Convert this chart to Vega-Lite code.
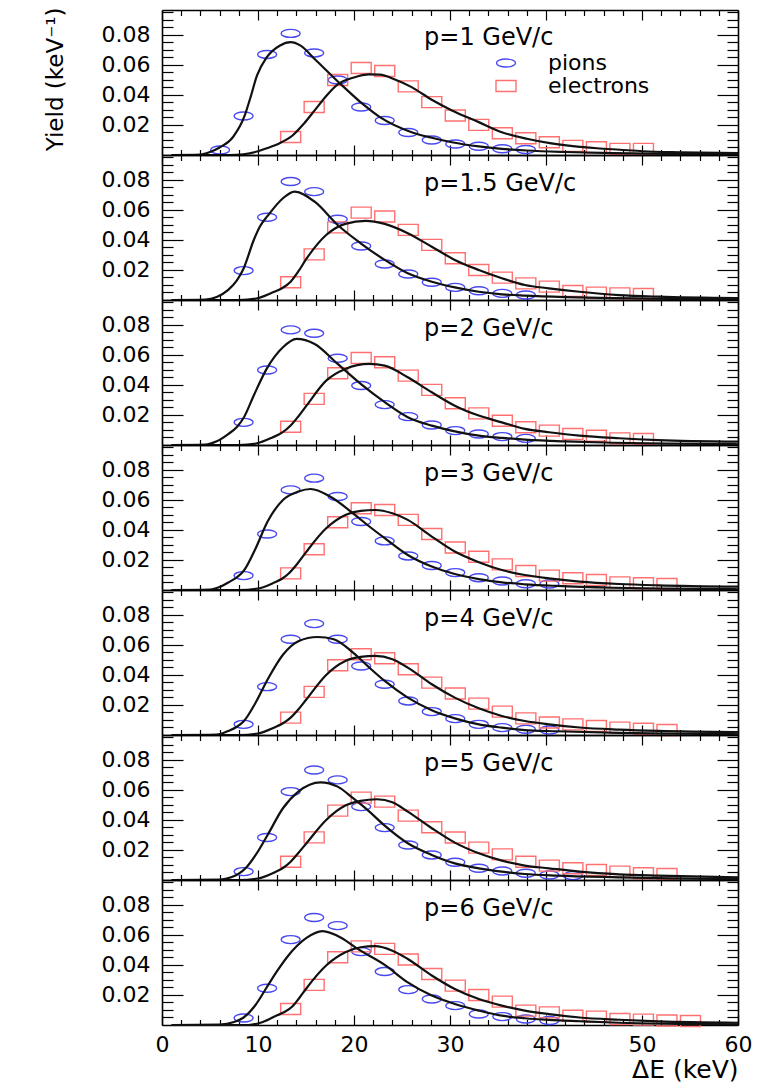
{
"$schema": "https://vega.github.io/schema/vega-lite/v6.json",
"background": "white",
"padding": {"left": 44, "top": 6, "right": 20, "bottom": 3},
"config": {
  "view": {"stroke": null},
  "font": "DejaVu Sans",
  "axis": {"domainColor": "black", "domainWidth": 1.6, "tickColor": "black", "tickWidth": 1.2, "labelColor": "black", "labelFont": "DejaVu Sans", "labelFontSize": 22, "titleFont": "DejaVu Sans", "titleColor": "black", "titleFontWeight": "normal", "grid": false, "labelFlush": false}
},
"datasets": {
  "lab": [
    {"p": "1", "t": "p=1 GeV/c"}, {"p": "1.5", "t": "p=1.5 GeV/c"}, {"p": "2", "t": "p=2 GeV/c"}, {"p": "3", "t": "p=3 GeV/c"}, {"p": "4", "t": "p=4 GeV/c"}, {"p": "5", "t": "p=5 GeV/c"}, {"p": "6", "t": "p=6 GeV/c"}
  ],
  "pts": [
    {"p":"1","s":"pions","x":6.05,"y":0.0033},{"p":"1","s":"pions","x":8.5,"y":0.026},{"p":"1","s":"pions","x":10.95,"y":0.067},{"p":"1","s":"pions","x":13.4,"y":0.081},{"p":"1","s":"pions","x":15.85,"y":0.068},{"p":"1","s":"pions","x":18.3,"y":0.050},{"p":"1","s":"pions","x":20.75,"y":0.032},{"p":"1","s":"pions","x":23.2,"y":0.023},{"p":"1","s":"pions","x":25.65,"y":0.015},{"p":"1","s":"pions","x":28.1,"y":0.010},{"p":"1","s":"pions","x":30.55,"y":0.0073},{"p":"1","s":"pions","x":33.0,"y":0.0058},{"p":"1","s":"pions","x":35.45,"y":0.0042},{"p":"1","s":"pions","x":37.9,"y":0.0037},
    {"p":"1","s":"electrons","x":13.4,"y":0.012},{"p":"1","s":"electrons","x":15.85,"y":0.032},{"p":"1","s":"electrons","x":18.3,"y":0.050},{"p":"1","s":"electrons","x":20.75,"y":0.058},{"p":"1","s":"electrons","x":23.2,"y":0.056},{"p":"1","s":"electrons","x":25.65,"y":0.0457},{"p":"1","s":"electrons","x":28.1,"y":0.0352},{"p":"1","s":"electrons","x":30.55,"y":0.0263},{"p":"1","s":"electrons","x":33.0,"y":0.0201},{"p":"1","s":"electrons","x":35.45,"y":0.0145},{"p":"1","s":"electrons","x":37.9,"y":0.0112},{"p":"1","s":"electrons","x":40.35,"y":0.0085},{"p":"1","s":"electrons","x":42.8,"y":0.0061},{"p":"1","s":"electrons","x":45.25,"y":0.0052},{"p":"1","s":"electrons","x":47.7,"y":0.0041},{"p":"1","s":"electrons","x":50.15,"y":0.0041},
    {"p":"1.5","s":"pions","x":8.5,"y":0.0196},{"p":"1.5","s":"pions","x":10.95,"y":0.0551},{"p":"1.5","s":"pions","x":13.4,"y":0.0789},{"p":"1.5","s":"pions","x":15.85,"y":0.0722},{"p":"1.5","s":"pions","x":18.3,"y":0.0538},{"p":"1.5","s":"pions","x":20.75,"y":0.036},{"p":"1.5","s":"pions","x":23.2,"y":0.024},{"p":"1.5","s":"pions","x":25.65,"y":0.0173},{"p":"1.5","s":"pions","x":28.1,"y":0.0118},{"p":"1.5","s":"pions","x":30.55,"y":0.0084},{"p":"1.5","s":"pions","x":33.0,"y":0.0062},{"p":"1.5","s":"pions","x":35.45,"y":0.0044},{"p":"1.5","s":"pions","x":37.9,"y":0.0033},
    {"p":"1.5","s":"electrons","x":13.4,"y":0.0118},{"p":"1.5","s":"electrons","x":15.85,"y":0.0304},{"p":"1.5","s":"electrons","x":18.3,"y":0.0484},{"p":"1.5","s":"electrons","x":20.75,"y":0.0582},{"p":"1.5","s":"electrons","x":23.2,"y":0.0556},{"p":"1.5","s":"electrons","x":25.65,"y":0.0467},{"p":"1.5","s":"electrons","x":28.1,"y":0.0367},{"p":"1.5","s":"electrons","x":30.55,"y":0.0278},{"p":"1.5","s":"electrons","x":33.0,"y":0.020},{"p":"1.5","s":"electrons","x":35.45,"y":0.0149},{"p":"1.5","s":"electrons","x":37.9,"y":0.0111},{"p":"1.5","s":"electrons","x":40.35,"y":0.0089},{"p":"1.5","s":"electrons","x":42.8,"y":0.006},{"p":"1.5","s":"electrons","x":45.25,"y":0.0049},{"p":"1.5","s":"electrons","x":47.7,"y":0.0044},{"p":"1.5","s":"electrons","x":50.15,"y":0.004},
    {"p":"2","s":"pions","x":8.5,"y":0.0151},{"p":"2","s":"pions","x":10.95,"y":0.050},{"p":"2","s":"pions","x":13.4,"y":0.0767},{"p":"2","s":"pions","x":15.85,"y":0.0744},{"p":"2","s":"pions","x":18.3,"y":0.0578},{"p":"2","s":"pions","x":20.75,"y":0.0396},{"p":"2","s":"pions","x":23.2,"y":0.0269},{"p":"2","s":"pions","x":25.65,"y":0.0189},{"p":"2","s":"pions","x":28.1,"y":0.0133},{"p":"2","s":"pions","x":30.55,"y":0.0096},{"p":"2","s":"pions","x":33.0,"y":0.0073},{"p":"2","s":"pions","x":35.45,"y":0.0056},{"p":"2","s":"pions","x":37.9,"y":0.0044},
    {"p":"2","s":"electrons","x":13.4,"y":0.0122},{"p":"2","s":"electrons","x":15.85,"y":0.0307},{"p":"2","s":"electrons","x":18.3,"y":0.0478},{"p":"2","s":"electrons","x":20.75,"y":0.058},{"p":"2","s":"electrons","x":23.2,"y":0.0551},{"p":"2","s":"electrons","x":25.65,"y":0.0462},{"p":"2","s":"electrons","x":28.1,"y":0.0367},{"p":"2","s":"electrons","x":30.55,"y":0.0278},{"p":"2","s":"electrons","x":33.0,"y":0.0211},{"p":"2","s":"electrons","x":35.45,"y":0.0162},{"p":"2","s":"electrons","x":37.9,"y":0.0118},{"p":"2","s":"electrons","x":40.35,"y":0.0096},{"p":"2","s":"electrons","x":42.8,"y":0.0073},{"p":"2","s":"electrons","x":45.25,"y":0.0062},{"p":"2","s":"electrons","x":47.7,"y":0.0044},{"p":"2","s":"electrons","x":50.15,"y":0.004},
    {"p":"3","s":"pions","x":8.5,"y":0.0096},{"p":"3","s":"pions","x":10.95,"y":0.0373},{"p":"3","s":"pions","x":13.4,"y":0.0667},{"p":"3","s":"pions","x":15.85,"y":0.0745},{"p":"3","s":"pions","x":18.3,"y":0.0623},{"p":"3","s":"pions","x":20.75,"y":0.0456},{"p":"3","s":"pions","x":23.2,"y":0.0327},{"p":"3","s":"pions","x":25.65,"y":0.0227},{"p":"3","s":"pions","x":28.1,"y":0.0163},{"p":"3","s":"pions","x":30.55,"y":0.0116},{"p":"3","s":"pions","x":33.0,"y":0.0082},{"p":"3","s":"pions","x":35.45,"y":0.006},{"p":"3","s":"pions","x":37.9,"y":0.0042},{"p":"3","s":"pions","x":40.35,"y":0.004},
    {"p":"3","s":"electrons","x":13.4,"y":0.0111},{"p":"3","s":"electrons","x":15.85,"y":0.0271},{"p":"3","s":"electrons","x":18.3,"y":0.0451},{"p":"3","s":"electrons","x":20.75,"y":0.0545},{"p":"3","s":"electrons","x":23.2,"y":0.0533},{"p":"3","s":"electrons","x":25.65,"y":0.0467},{"p":"3","s":"electrons","x":28.1,"y":0.0373},{"p":"3","s":"electrons","x":30.55,"y":0.0283},{"p":"3","s":"electrons","x":33.0,"y":0.0222},{"p":"3","s":"electrons","x":35.45,"y":0.0171},{"p":"3","s":"electrons","x":37.9,"y":0.0127},{"p":"3","s":"electrons","x":40.35,"y":0.0096},{"p":"3","s":"electrons","x":42.8,"y":0.0078},{"p":"3","s":"electrons","x":45.25,"y":0.0067},{"p":"3","s":"electrons","x":47.7,"y":0.0051},{"p":"3","s":"electrons","x":50.15,"y":0.0045},{"p":"3","s":"electrons","x":52.6,"y":0.004},
    {"p":"4","s":"pions","x":8.5,"y":0.0071},{"p":"4","s":"pions","x":10.95,"y":0.0322},{"p":"4","s":"pions","x":13.4,"y":0.0638},{"p":"4","s":"pions","x":15.85,"y":0.0742},{"p":"4","s":"pions","x":18.3,"y":0.0638},{"p":"4","s":"pions","x":20.75,"y":0.046},{"p":"4","s":"pions","x":23.2,"y":0.0338},{"p":"4","s":"pions","x":25.65,"y":0.0227},{"p":"4","s":"pions","x":28.1,"y":0.0156},{"p":"4","s":"pions","x":30.55,"y":0.0109},{"p":"4","s":"pions","x":33.0,"y":0.0071},{"p":"4","s":"pions","x":35.45,"y":0.0049},{"p":"4","s":"pions","x":37.9,"y":0.0038},{"p":"4","s":"pions","x":40.35,"y":0.0033},
    {"p":"4","s":"electrons","x":13.4,"y":0.0116},{"p":"4","s":"electrons","x":15.85,"y":0.0287},{"p":"4","s":"electrons","x":18.3,"y":0.0465},{"p":"4","s":"electrons","x":20.75,"y":0.0538},{"p":"4","s":"electrons","x":23.2,"y":0.0511},{"p":"4","s":"electrons","x":25.65,"y":0.0438},{"p":"4","s":"electrons","x":28.1,"y":0.0349},{"p":"4","s":"electrons","x":30.55,"y":0.0276},{"p":"4","s":"electrons","x":33.0,"y":0.0209},{"p":"4","s":"electrons","x":35.45,"y":0.0156},{"p":"4","s":"electrons","x":37.9,"y":0.0111},{"p":"4","s":"electrons","x":40.35,"y":0.0083},{"p":"4","s":"electrons","x":42.8,"y":0.0071},{"p":"4","s":"electrons","x":45.25,"y":0.006},{"p":"4","s":"electrons","x":47.7,"y":0.0049},{"p":"4","s":"electrons","x":50.15,"y":0.0042},{"p":"4","s":"electrons","x":52.6,"y":0.0033},
    {"p":"5","s":"pions","x":8.5,"y":0.0056},{"p":"5","s":"pions","x":10.95,"y":0.0283},{"p":"5","s":"pions","x":13.4,"y":0.0589},{"p":"5","s":"pions","x":15.85,"y":0.0733},{"p":"5","s":"pions","x":18.3,"y":0.0667},{"p":"5","s":"pions","x":20.75,"y":0.0489},{"p":"5","s":"pions","x":23.2,"y":0.0349},{"p":"5","s":"pions","x":25.65,"y":0.0233},{"p":"5","s":"pions","x":28.1,"y":0.0167},{"p":"5","s":"pions","x":30.55,"y":0.0118},{"p":"5","s":"pions","x":33.0,"y":0.0078},{"p":"5","s":"pions","x":35.45,"y":0.006},{"p":"5","s":"pions","x":37.9,"y":0.0045},{"p":"5","s":"pions","x":40.35,"y":0.0033},{"p":"5","s":"pions","x":42.8,"y":0.0029},
    {"p":"5","s":"electrons","x":13.4,"y":0.0122},{"p":"5","s":"electrons","x":15.85,"y":0.0284},{"p":"5","s":"electrons","x":18.3,"y":0.0462},{"p":"5","s":"electrons","x":20.75,"y":0.0549},{"p":"5","s":"electrons","x":23.2,"y":0.0522},{"p":"5","s":"electrons","x":25.65,"y":0.0429},{"p":"5","s":"electrons","x":28.1,"y":0.0351},{"p":"5","s":"electrons","x":30.55,"y":0.0283},{"p":"5","s":"electrons","x":33.0,"y":0.0216},{"p":"5","s":"electrons","x":35.45,"y":0.0171},{"p":"5","s":"electrons","x":37.9,"y":0.0122},{"p":"5","s":"electrons","x":40.35,"y":0.0096},{"p":"5","s":"electrons","x":42.8,"y":0.0078},{"p":"5","s":"electrons","x":45.25,"y":0.0067},{"p":"5","s":"electrons","x":47.7,"y":0.0056},{"p":"5","s":"electrons","x":50.15,"y":0.0045},{"p":"5","s":"electrons","x":52.6,"y":0.004},
    {"p":"6","s":"pions","x":8.5,"y":0.0047},{"p":"6","s":"pions","x":10.95,"y":0.0245},{"p":"6","s":"pions","x":13.4,"y":0.0569},{"p":"6","s":"pions","x":15.85,"y":0.0716},{"p":"6","s":"pions","x":18.3,"y":0.0662},{"p":"6","s":"pions","x":20.75,"y":0.0489},{"p":"6","s":"pions","x":23.2,"y":0.0356},{"p":"6","s":"pions","x":25.65,"y":0.0236},{"p":"6","s":"pions","x":28.1,"y":0.0173},{"p":"6","s":"pions","x":30.55,"y":0.0129},{"p":"6","s":"pions","x":33.0,"y":0.0073},{"p":"6","s":"pions","x":35.45,"y":0.0056},{"p":"6","s":"pions","x":37.9,"y":0.004},{"p":"6","s":"pions","x":40.35,"y":0.003},
    {"p":"6","s":"electrons","x":13.4,"y":0.0107},{"p":"6","s":"electrons","x":15.85,"y":0.0267},{"p":"6","s":"electrons","x":18.3,"y":0.0451},{"p":"6","s":"electrons","x":20.75,"y":0.0524},{"p":"6","s":"electrons","x":23.2,"y":0.0507},{"p":"6","s":"electrons","x":25.65,"y":0.0436},{"p":"6","s":"electrons","x":28.1,"y":0.034},{"p":"6","s":"electrons","x":30.55,"y":0.0262},{"p":"6","s":"electrons","x":33.0,"y":0.020},{"p":"6","s":"electrons","x":35.45,"y":0.0156},{"p":"6","s":"electrons","x":37.9,"y":0.0096},{"p":"6","s":"electrons","x":40.35,"y":0.0084},{"p":"6","s":"electrons","x":42.8,"y":0.0062},{"p":"6","s":"electrons","x":45.25,"y":0.0056},{"p":"6","s":"electrons","x":47.7,"y":0.004},{"p":"6","s":"electrons","x":50.15,"y":0.0036},{"p":"6","s":"electrons","x":52.6,"y":0.003},{"p":"6","s":"electrons","x":55.05,"y":0.0027}
  ],
  "fit": [
    {"p":"1","s":"pions","x":1,"y":0},{"p":"1","s":"pions","x":4,"y":0.0003},{"p":"1","s":"pions","x":5,"y":0.002},{"p":"1","s":"pions","x":6,"y":0.005},{"p":"1","s":"pions","x":7.4,"y":0.012},{"p":"1","s":"pions","x":8.6,"y":0.026},{"p":"1","s":"pions","x":9.2,"y":0.038},{"p":"1","s":"pions","x":9.9,"y":0.053},{"p":"1","s":"pions","x":10.9,"y":0.065},{"p":"1","s":"pions","x":12.3,"y":0.073},{"p":"1","s":"pions","x":13.4,"y":0.0752},{"p":"1","s":"pions","x":14.4,"y":0.073},{"p":"1","s":"pions","x":15.9,"y":0.064},{"p":"1","s":"pions","x":18.4,"y":0.0485},{"p":"1","s":"pions","x":20.9,"y":0.034},{"p":"1","s":"pions","x":22.7,"y":0.0252},{"p":"1","s":"pions","x":26,"y":0.0152},{"p":"1","s":"pions","x":28.1,"y":0.0115},{"p":"1","s":"pions","x":30.2,"y":0.0085},{"p":"1","s":"pions","x":33,"y":0.0057},{"p":"1","s":"pions","x":35.4,"y":0.0041},{"p":"1","s":"pions","x":38,"y":0.003},{"p":"1","s":"pions","x":42,"y":0.002},{"p":"1","s":"pions","x":47,"y":0.0012},{"p":"1","s":"pions","x":53,"y":0.0007},{"p":"1","s":"pions","x":60,"y":0.0004},
    {"p":"1","s":"electrons","x":1,"y":0},{"p":"1","s":"electrons","x":7,"y":0},{"p":"1","s":"electrons","x":8.5,"y":0.0005},{"p":"1","s":"electrons","x":10,"y":0.0025},{"p":"1","s":"electrons","x":10.9,"y":0.0045},{"p":"1","s":"electrons","x":12.3,"y":0.008},{"p":"1","s":"electrons","x":13.6,"y":0.013},{"p":"1","s":"electrons","x":14.8,"y":0.021},{"p":"1","s":"electrons","x":15.9,"y":0.0297},{"p":"1","s":"electrons","x":17.2,"y":0.040},{"p":"1","s":"electrons","x":18.4,"y":0.0475},{"p":"1","s":"electrons","x":19.9,"y":0.0515},{"p":"1","s":"electrons","x":21.6,"y":0.0537},{"p":"1","s":"electrons","x":22.7,"y":0.0535},{"p":"1","s":"electrons","x":24.2,"y":0.0505},{"p":"1","s":"electrons","x":26,"y":0.0452},{"p":"1","s":"electrons","x":28.1,"y":0.0368},{"p":"1","s":"electrons","x":30.2,"y":0.0297},{"p":"1","s":"electrons","x":33,"y":0.0219},{"p":"1","s":"electrons","x":35.4,"y":0.0152},{"p":"1","s":"electrons","x":38,"y":0.0108},{"p":"1","s":"electrons","x":40.4,"y":0.0079},{"p":"1","s":"electrons","x":42.8,"y":0.0059},{"p":"1","s":"electrons","x":45.3,"y":0.0045},{"p":"1","s":"electrons","x":47.7,"y":0.0035},{"p":"1","s":"electrons","x":50.1,"y":0.0025},{"p":"1","s":"electrons","x":54,"y":0.0018},{"p":"1","s":"electrons","x":60,"y":0.0012},
    {"p":"1.5","s":"pions","x":1,"y":0},{"p":"1.5","s":"pions","x":4.5,"y":0.0003},{"p":"1.5","s":"pions","x":5.7,"y":0.002},{"p":"1.5","s":"pions","x":6.9,"y":0.0067},{"p":"1.5","s":"pions","x":7.8,"y":0.013},{"p":"1.5","s":"pions","x":8.5,"y":0.021},{"p":"1.5","s":"pions","x":9.56,"y":0.040},{"p":"1.5","s":"pions","x":10.2,"y":0.049},{"p":"1.5","s":"pions","x":11.0,"y":0.056},{"p":"1.5","s":"pions","x":12.6,"y":0.0678},{"p":"1.5","s":"pions","x":13.8,"y":0.0722},{"p":"1.5","s":"pions","x":15.9,"y":0.0655},{"p":"1.5","s":"pions","x":18.3,"y":0.050},{"p":"1.5","s":"pions","x":20.7,"y":0.0378},{"p":"1.5","s":"pions","x":23.2,"y":0.0267},{"p":"1.5","s":"pions","x":25.6,"y":0.0178},{"p":"1.5","s":"pions","x":28.1,"y":0.0122},{"p":"1.5","s":"pions","x":30.5,"y":0.0084},{"p":"1.5","s":"pions","x":33,"y":0.0055},{"p":"1.5","s":"pions","x":35.4,"y":0.0038},{"p":"1.5","s":"pions","x":37.8,"y":0.0029},{"p":"1.5","s":"pions","x":42,"y":0.0019},{"p":"1.5","s":"pions","x":47,"y":0.0012},{"p":"1.5","s":"pions","x":53,"y":0.0007},{"p":"1.5","s":"pions","x":60,"y":0.0004},
    {"p":"1.5","s":"electrons","x":1,"y":0},{"p":"1.5","s":"electrons","x":8,"y":0},{"p":"1.5","s":"electrons","x":9.8,"y":0.001},{"p":"1.5","s":"electrons","x":11.5,"y":0.005},{"p":"1.5","s":"electrons","x":12.5,"y":0.0078},{"p":"1.5","s":"electrons","x":13.4,"y":0.0122},{"p":"1.5","s":"electrons","x":14.2,"y":0.019},{"p":"1.5","s":"electrons","x":15.05,"y":0.0275},{"p":"1.5","s":"electrons","x":17.1,"y":0.0433},{"p":"1.5","s":"electrons","x":19.1,"y":0.0507},{"p":"1.5","s":"electrons","x":21.2,"y":0.0527},{"p":"1.5","s":"electrons","x":23.2,"y":0.0507},{"p":"1.5","s":"electrons","x":25.6,"y":0.0445},{"p":"1.5","s":"electrons","x":28.1,"y":0.0355},{"p":"1.5","s":"electrons","x":30.5,"y":0.0267},{"p":"1.5","s":"electrons","x":33,"y":0.020},{"p":"1.5","s":"electrons","x":35.4,"y":0.0145},{"p":"1.5","s":"electrons","x":37.8,"y":0.010},{"p":"1.5","s":"electrons","x":40.3,"y":0.0078},{"p":"1.5","s":"electrons","x":43.5,"y":0.0055},{"p":"1.5","s":"electrons","x":47.6,"y":0.0033},{"p":"1.5","s":"electrons","x":51.7,"y":0.0022},{"p":"1.5","s":"electrons","x":60,"y":0.0012},
    {"p":"2","s":"pions","x":1,"y":0},{"p":"2","s":"pions","x":4.5,"y":0.0003},{"p":"2","s":"pions","x":5.7,"y":0.0025},{"p":"2","s":"pions","x":6.9,"y":0.0073},{"p":"2","s":"pions","x":7.8,"y":0.012},{"p":"2","s":"pions","x":8.54,"y":0.0185},{"p":"2","s":"pions","x":9.56,"y":0.033},{"p":"2","s":"pions","x":10.9,"y":0.0507},{"p":"2","s":"pions","x":12.6,"y":0.0651},{"p":"2","s":"pions","x":14.0,"y":0.0707},{"p":"2","s":"pions","x":15.9,"y":0.0673},{"p":"2","s":"pions","x":18.3,"y":0.054},{"p":"2","s":"pions","x":20.7,"y":0.0407},{"p":"2","s":"pions","x":23.2,"y":0.0285},{"p":"2","s":"pions","x":25.6,"y":0.0185},{"p":"2","s":"pions","x":28.1,"y":0.0129},{"p":"2","s":"pions","x":30.5,"y":0.0091},{"p":"2","s":"pions","x":33,"y":0.0062},{"p":"2","s":"pions","x":35.4,"y":0.0047},{"p":"2","s":"pions","x":37.8,"y":0.0036},{"p":"2","s":"pions","x":42,"y":0.0024},{"p":"2","s":"pions","x":47,"y":0.0015},{"p":"2","s":"pions","x":53,"y":0.0009},{"p":"2","s":"pions","x":60,"y":0.0005},
    {"p":"2","s":"electrons","x":1,"y":0},{"p":"2","s":"electrons","x":8,"y":0},{"p":"2","s":"electrons","x":9.8,"y":0.001},{"p":"2","s":"electrons","x":11.5,"y":0.005},{"p":"2","s":"electrons","x":12.5,"y":0.0082},{"p":"2","s":"electrons","x":13.4,"y":0.013},{"p":"2","s":"electrons","x":14.2,"y":0.019},{"p":"2","s":"electrons","x":15.05,"y":0.0262},{"p":"2","s":"electrons","x":17.1,"y":0.0429},{"p":"2","s":"electrons","x":19.1,"y":0.0507},{"p":"2","s":"electrons","x":21.6,"y":0.054},{"p":"2","s":"electrons","x":23.2,"y":0.0529},{"p":"2","s":"electrons","x":25.6,"y":0.0451},{"p":"2","s":"electrons","x":28.1,"y":0.0351},{"p":"2","s":"electrons","x":30.5,"y":0.0262},{"p":"2","s":"electrons","x":33,"y":0.0196},{"p":"2","s":"electrons","x":35.4,"y":0.0151},{"p":"2","s":"electrons","x":37.8,"y":0.0107},{"p":"2","s":"electrons","x":40.3,"y":0.0085},{"p":"2","s":"electrons","x":43.5,"y":0.0062},{"p":"2","s":"electrons","x":47.6,"y":0.0045},{"p":"2","s":"electrons","x":51.7,"y":0.0033},{"p":"2","s":"electrons","x":60,"y":0.0022},
    {"p":"3","s":"pions","x":1,"y":0},{"p":"3","s":"pions","x":5,"y":0.0003},{"p":"3","s":"pions","x":6,"y":0.002},{"p":"3","s":"pions","x":6.9,"y":0.0050},{"p":"3","s":"pions","x":7.8,"y":0.0085},{"p":"3","s":"pions","x":8.54,"y":0.013},{"p":"3","s":"pions","x":9.76,"y":0.0278},{"p":"3","s":"pions","x":11.0,"y":0.0456},{"p":"3","s":"pions","x":12.6,"y":0.060},{"p":"3","s":"pions","x":14.2,"y":0.0656},{"p":"3","s":"pions","x":15.5,"y":0.0673},{"p":"3","s":"pions","x":17.5,"y":0.0623},{"p":"3","s":"pions","x":19.9,"y":0.0511},{"p":"3","s":"pions","x":21.6,"y":0.0423},{"p":"3","s":"pions","x":23.2,"y":0.0345},{"p":"3","s":"pions","x":25.6,"y":0.0233},{"p":"3","s":"pions","x":28.1,"y":0.0156},{"p":"3","s":"pions","x":30.5,"y":0.0107},{"p":"3","s":"pions","x":33,"y":0.0073},{"p":"3","s":"pions","x":35.4,"y":0.0051},{"p":"3","s":"pions","x":37.8,"y":0.0038},{"p":"3","s":"pions","x":41.1,"y":0.0027},{"p":"3","s":"pions","x":47,"y":0.0015},{"p":"3","s":"pions","x":53,"y":0.0009},{"p":"3","s":"pions","x":60,"y":0.0005},
    {"p":"3","s":"electrons","x":1,"y":0},{"p":"3","s":"electrons","x":8,"y":0},{"p":"3","s":"electrons","x":10,"y":0.001},{"p":"3","s":"electrons","x":11.7,"y":0.005},{"p":"3","s":"electrons","x":12.5,"y":0.0075},{"p":"3","s":"electrons","x":13.2,"y":0.011},{"p":"3","s":"electrons","x":14.1,"y":0.0175},{"p":"3","s":"electrons","x":15.05,"y":0.0256},{"p":"3","s":"electrons","x":17.1,"y":0.0411},{"p":"3","s":"electrons","x":19.1,"y":0.050},{"p":"3","s":"electrons","x":20.7,"y":0.0527},{"p":"3","s":"electrons","x":22.2,"y":0.0533},{"p":"3","s":"electrons","x":24.0,"y":0.0511},{"p":"3","s":"electrons","x":25.6,"y":0.0467},{"p":"3","s":"electrons","x":28.1,"y":0.0356},{"p":"3","s":"electrons","x":30.5,"y":0.0256},{"p":"3","s":"electrons","x":33,"y":0.0185},{"p":"3","s":"electrons","x":35.4,"y":0.0133},{"p":"3","s":"electrons","x":37.8,"y":0.010},{"p":"3","s":"electrons","x":40.3,"y":0.0078},{"p":"3","s":"electrons","x":43.5,"y":0.0056},{"p":"3","s":"electrons","x":47.6,"y":0.004},{"p":"3","s":"electrons","x":51.7,"y":0.0031},{"p":"3","s":"electrons","x":60,"y":0.0022},
    {"p":"4","s":"pions","x":1,"y":0},{"p":"4","s":"pions","x":5.7,"y":0.0003},{"p":"4","s":"pions","x":6.9,"y":0.0027},{"p":"4","s":"pions","x":7.8,"y":0.0055},{"p":"4","s":"pions","x":8.54,"y":0.0093},{"p":"4","s":"pions","x":9.76,"y":0.0216},{"p":"4","s":"pions","x":11,"y":0.037},{"p":"4","s":"pions","x":12.6,"y":0.0535},{"p":"4","s":"pions","x":14.2,"y":0.0625},{"p":"4","s":"pions","x":16.2,"y":0.0653},{"p":"4","s":"pions","x":17.9,"y":0.0638},{"p":"4","s":"pions","x":19.9,"y":0.0549},{"p":"4","s":"pions","x":21.6,"y":0.0449},{"p":"4","s":"pions","x":23.2,"y":0.036},{"p":"4","s":"pions","x":25.6,"y":0.0249},{"p":"4","s":"pions","x":28.1,"y":0.0165},{"p":"4","s":"pions","x":30.5,"y":0.0111},{"p":"4","s":"pions","x":33,"y":0.0071},{"p":"4","s":"pions","x":35.4,"y":0.0049},{"p":"4","s":"pions","x":37.8,"y":0.0033},{"p":"4","s":"pions","x":41.1,"y":0.0025},{"p":"4","s":"pions","x":47.6,"y":0.0014},{"p":"4","s":"pions","x":53,"y":0.0009},{"p":"4","s":"pions","x":60,"y":0.0005},
    {"p":"4","s":"electrons","x":1,"y":0},{"p":"4","s":"electrons","x":8,"y":0},{"p":"4","s":"electrons","x":10,"y":0.001},{"p":"4","s":"electrons","x":11.7,"y":0.005},{"p":"4","s":"electrons","x":12.6,"y":0.0078},{"p":"4","s":"electrons","x":13.4,"y":0.0116},{"p":"4","s":"electrons","x":14.2,"y":0.017},{"p":"4","s":"electrons","x":15.05,"y":0.0238},{"p":"4","s":"electrons","x":17.1,"y":0.040},{"p":"4","s":"electrons","x":19.1,"y":0.0493},{"p":"4","s":"electrons","x":20.7,"y":0.052},{"p":"4","s":"electrons","x":22.2,"y":0.0527},{"p":"4","s":"electrons","x":24,"y":0.0505},{"p":"4","s":"electrons","x":25.6,"y":0.0449},{"p":"4","s":"electrons","x":28.1,"y":0.0338},{"p":"4","s":"electrons","x":30.5,"y":0.0249},{"p":"4","s":"electrons","x":33,"y":0.0178},{"p":"4","s":"electrons","x":35.4,"y":0.0127},{"p":"4","s":"electrons","x":37.8,"y":0.0093},{"p":"4","s":"electrons","x":40.3,"y":0.0071},{"p":"4","s":"electrons","x":43.5,"y":0.005},{"p":"4","s":"electrons","x":47.6,"y":0.0036},{"p":"4","s":"electrons","x":51.7,"y":0.0027},{"p":"4","s":"electrons","x":60,"y":0.0019},
    {"p":"5","s":"pions","x":1,"y":0},{"p":"5","s":"pions","x":6.1,"y":0.0003},{"p":"5","s":"pions","x":7.2,"y":0.0018},{"p":"5","s":"pions","x":8.0,"y":0.0042},{"p":"5","s":"pions","x":8.8,"y":0.0085},{"p":"5","s":"pions","x":9.76,"y":0.0167},{"p":"5","s":"pions","x":11.0,"y":0.030},{"p":"5","s":"pions","x":12.6,"y":0.0478},{"p":"5","s":"pions","x":14.2,"y":0.0589},{"p":"5","s":"pions","x":16.5,"y":0.0651},{"p":"5","s":"pions","x":18.3,"y":0.0622},{"p":"5","s":"pions","x":19.9,"y":0.0545},{"p":"5","s":"pions","x":21.6,"y":0.0456},{"p":"5","s":"pions","x":23.2,"y":0.0362},{"p":"5","s":"pions","x":25.6,"y":0.0245},{"p":"5","s":"pions","x":28.1,"y":0.0167},{"p":"5","s":"pions","x":30.5,"y":0.0111},{"p":"5","s":"pions","x":33,"y":0.0078},{"p":"5","s":"pions","x":35.4,"y":0.0056},{"p":"5","s":"pions","x":37.8,"y":0.004},{"p":"5","s":"pions","x":41.1,"y":0.0029},{"p":"5","s":"pions","x":47.6,"y":0.0018},{"p":"5","s":"pions","x":53,"y":0.0011},{"p":"5","s":"pions","x":60,"y":0.0006},
    {"p":"5","s":"electrons","x":1,"y":0},{"p":"5","s":"electrons","x":8,"y":0},{"p":"5","s":"electrons","x":10,"y":0.001},{"p":"5","s":"electrons","x":11.7,"y":0.005},{"p":"5","s":"electrons","x":12.6,"y":0.008},{"p":"5","s":"electrons","x":13.4,"y":0.0122},{"p":"5","s":"electrons","x":14.2,"y":0.018},{"p":"5","s":"electrons","x":15.05,"y":0.0245},{"p":"5","s":"electrons","x":17.1,"y":0.040},{"p":"5","s":"electrons","x":19.1,"y":0.0496},{"p":"5","s":"electrons","x":20.7,"y":0.0527},{"p":"5","s":"electrons","x":22.4,"y":0.0538},{"p":"5","s":"electrons","x":24,"y":0.0518},{"p":"5","s":"electrons","x":25.6,"y":0.0456},{"p":"5","s":"electrons","x":28.1,"y":0.0345},{"p":"5","s":"electrons","x":30.5,"y":0.0249},{"p":"5","s":"electrons","x":33,"y":0.0178},{"p":"5","s":"electrons","x":35.4,"y":0.0129},{"p":"5","s":"electrons","x":37.8,"y":0.0096},{"p":"5","s":"electrons","x":40.3,"y":0.0078},{"p":"5","s":"electrons","x":43.5,"y":0.0056},{"p":"5","s":"electrons","x":47.6,"y":0.0038},{"p":"5","s":"electrons","x":51.7,"y":0.0029},{"p":"5","s":"electrons","x":60,"y":0.0018},
    {"p":"6","s":"pions","x":1,"y":0},{"p":"6","s":"pions","x":6,"y":0.0003},{"p":"6","s":"pions","x":7.5,"y":0.002},{"p":"6","s":"pions","x":8.5,"y":0.005},{"p":"6","s":"pions","x":9.7,"y":0.013},{"p":"6","s":"pions","x":10.9,"y":0.025},{"p":"6","s":"pions","x":12.0,"y":0.036},{"p":"6","s":"pions","x":13.0,"y":0.045},{"p":"6","s":"pions","x":15.05,"y":0.058},{"p":"6","s":"pions","x":16.7,"y":0.0625},{"p":"6","s":"pions","x":18.7,"y":0.058},{"p":"6","s":"pions","x":20.3,"y":0.051},{"p":"6","s":"pions","x":23.2,"y":0.040},{"p":"6","s":"pions","x":25.6,"y":0.0284},{"p":"6","s":"pions","x":28.1,"y":0.0196},{"p":"6","s":"pions","x":30.5,"y":0.014},{"p":"6","s":"pions","x":33,"y":0.0096},{"p":"6","s":"pions","x":35.4,"y":0.0062},{"p":"6","s":"pions","x":37.8,"y":0.0045},{"p":"6","s":"pions","x":40.3,"y":0.0034},{"p":"6","s":"pions","x":43.5,"y":0.0025},{"p":"6","s":"pions","x":47.6,"y":0.0015},{"p":"6","s":"pions","x":53.7,"y":0.0008},{"p":"6","s":"pions","x":60,"y":0.0004},
    {"p":"6","s":"electrons","x":1,"y":0},{"p":"6","s":"electrons","x":9,"y":0},{"p":"6","s":"electrons","x":10.5,"y":0.002},{"p":"6","s":"electrons","x":12,"y":0.0065},{"p":"6","s":"electrons","x":12.8,"y":0.0088},{"p":"6","s":"electrons","x":13.6,"y":0.0125},{"p":"6","s":"electrons","x":14.3,"y":0.018},{"p":"6","s":"electrons","x":15.05,"y":0.0245},{"p":"6","s":"electrons","x":17.1,"y":0.0396},{"p":"6","s":"electrons","x":19.1,"y":0.0484},{"p":"6","s":"electrons","x":20.7,"y":0.0518},{"p":"6","s":"electrons","x":22.2,"y":0.0525},{"p":"6","s":"electrons","x":24,"y":0.0495},{"p":"6","s":"electrons","x":25.6,"y":0.044},{"p":"6","s":"electrons","x":28.1,"y":0.033},{"p":"6","s":"electrons","x":30.5,"y":0.024},{"p":"6","s":"electrons","x":33,"y":0.0173},{"p":"6","s":"electrons","x":35.4,"y":0.0129},{"p":"6","s":"electrons","x":37.8,"y":0.0096},{"p":"6","s":"electrons","x":40.3,"y":0.0073},{"p":"6","s":"electrons","x":43.5,"y":0.005},{"p":"6","s":"electrons","x":47.6,"y":0.0035},{"p":"6","s":"electrons","x":51.7,"y":0.0024},{"p":"6","s":"electrons","x":60,"y":0.0015}
  ]
},
"spacing": 0,
"bounds": "flush",
"resolve": {"legend": {"color": "independent", "shape": "independent"}},
"vconcat": [
 {"width": 576, "height": 145, "resolve": {"axis": {"x": "independent", "y": "independent"}},
  "layer": [
   {"data": {"name": "pts"}, "transform": [{"filter": "datum.p === '1' && datum.s === 'pions'"}],
    "mark": {"type": "point", "filled": false, "strokeWidth": 1.4, "size": 100, "opacity": 1},
    "encoding": {
     "x": {"field": "x", "type": "quantitative", "scale": {"domain": [0, 60], "nice": false, "zero": false}, "axis": {"orient": "bottom", "values": [0,10,20,30,40,50,60], "tickSize": -10, "labels": false, "title": null}},
     "y": {"field": "y", "type": "quantitative", "scale": {"domain": [0, 0.0966], "nice": false, "zero": false}, "axis": {"orient": "left", "values": [0.02,0.04,0.06,0.08], "tickSize": -21, "format": ".2f", "labelPadding": 33, "title": "Yield (keV⁻¹)", "titleFontSize": 23, "titleAnchor": "end", "titleY": -3, "titlePadding": 34}},
     "color": {"field": "s", "type": "nominal", "scale": {"domain": ["pions", "electrons"], "range": ["#4848f0", "#ff7070"]}, "legend": {"orient": "none", "legendX": 333, "legendY": 42, "title": null, "labelFontSize": 22, "labelFont": "DejaVu Sans", "labelColor": "black", "labelOffset": 31, "symbolStrokeWidth": 1.4, "rowPadding": 1, "symbolSize": 100, "padding": 0}},
     "shape": {"field": "s", "type": "nominal", "scale": {"domain": ["pions", "electrons"], "range": ["M-1.9,0A1.9,0.8,0,1,0,1.9,0A1.9,0.8,0,1,0,-1.9,0Z", "M-2,-1.1L2,-1.1L2,1.1L-2,1.1Z"]}, "legend": {"orient": "none", "legendX": 333, "legendY": 42, "title": null, "labelFontSize": 22, "labelFont": "DejaVu Sans", "labelColor": "black", "labelOffset": 31, "symbolStrokeWidth": 1.4, "rowPadding": 1, "symbolSize": 100, "padding": 0}}
    }},
   {"data": {"name": "pts"}, "transform": [{"filter": "datum.p === '1' && datum.s === 'electrons'"}],
    "mark": {"type": "point", "filled": false, "strokeWidth": 1.4, "size": 100, "opacity": 1},
    "encoding": {
     "x": {"field": "x", "type": "quantitative", "axis": {"orient": "bottom", "values": [2,4,6,8,12,14,16,18,22,24,26,28,32,34,36,38,42,44,46,48,52,54,56,58], "tickSize": -5.5, "labels": false, "domain": false, "title": null}},
     "y": {"field": "y", "type": "quantitative", "axis": {"orient": "left", "values": [0.005,0.01,0.015,0.025,0.03,0.035,0.045,0.05,0.055,0.065,0.07,0.075,0.085,0.09,0.095], "tickSize": -11, "labels": false, "domain": false, "title": null}},
     "color": {"field": "s", "type": "nominal", "legend": {"orient": "none", "legendX": 333, "legendY": 42, "title": null, "labelFontSize": 22, "labelFont": "DejaVu Sans", "labelColor": "black", "labelOffset": 31, "symbolStrokeWidth": 1.4, "rowPadding": 1, "symbolSize": 100, "padding": 0}},
     "shape": {"field": "s", "type": "nominal", "legend": {"orient": "none", "legendX": 333, "legendY": 42, "title": null, "labelFontSize": 22, "labelFont": "DejaVu Sans", "labelColor": "black", "labelOffset": 31, "symbolStrokeWidth": 1.4, "rowPadding": 1, "symbolSize": 100, "padding": 0}}
    }},
   {"data": {"name": "fit"}, "transform": [{"filter": "datum.p === '1' && datum.s === 'pions'"}],
    "mark": {"type": "line", "color": "#111111", "strokeWidth": 2.2, "interpolate": "monotone"},
    "encoding": {
     "x": {"field": "x", "type": "quantitative", "axis": {"orient": "top", "values": [0,10,20,30,40,50,60], "tickSize": -10, "labels": false, "title": null}},
     "y": {"field": "y", "type": "quantitative", "axis": {"orient": "right", "values": [0.02,0.04,0.06,0.08], "tickSize": -21, "labels": false, "title": null}}
    }},
   {"data": {"name": "fit"}, "transform": [{"filter": "datum.p === '1' && datum.s === 'electrons'"}],
    "mark": {"type": "line", "color": "#111111", "strokeWidth": 2.2, "interpolate": "monotone"},
    "encoding": {
     "x": {"field": "x", "type": "quantitative", "axis": {"orient": "top", "values": [2,4,6,8,12,14,16,18,22,24,26,28,32,34,36,38,42,44,46,48,52,54,56,58], "tickSize": -5.5, "labels": false, "domain": false, "title": null}},
     "y": {"field": "y", "type": "quantitative", "axis": {"orient": "right", "values": [0.005,0.01,0.015,0.025,0.03,0.035,0.045,0.05,0.055,0.065,0.07,0.075,0.085,0.09,0.095], "tickSize": -11, "labels": false, "domain": false, "title": null}}
    }},
   {"data": {"name": "lab"}, "transform": [{"filter": "datum.p === '1'"}],
    "mark": {"type": "text", "align": "left", "baseline": "alphabetic", "fontSize": 24, "font": "DejaVu Sans", "color": "black"},
    "encoding": {"x": {"datum": 27.3, "type": "quantitative", "axis": null}, "y": {"datum": 0.0735, "type": "quantitative", "axis": null}, "text": {"field": "t"}}}
  ]},
 {"width": 576, "height": 145, "resolve": {"axis": {"x": "independent", "y": "independent"}},
  "layer": [
   {"data": {"name": "pts"}, "transform": [{"filter": "datum.p === '1.5' && datum.s === 'pions'"}],
    "mark": {"type": "point", "filled": false, "strokeWidth": 1.4, "size": 100, "opacity": 1},
    "encoding": {
     "x": {"field": "x", "type": "quantitative", "scale": {"domain": [0, 60], "nice": false, "zero": false}, "axis": {"orient": "bottom", "values": [0,10,20,30,40,50,60], "tickSize": -10, "labels": false, "title": null}},
     "y": {"field": "y", "type": "quantitative", "scale": {"domain": [0, 0.0966], "nice": false, "zero": false}, "axis": {"orient": "left", "values": [0.02,0.04,0.06,0.08], "tickSize": -21, "format": ".2f", "labelPadding": 33, "title": null}},
     "color": {"field": "s", "type": "nominal", "scale": {"domain": ["pions", "electrons"], "range": ["#4848f0", "#ff7070"]}, "legend": null},
     "shape": {"field": "s", "type": "nominal", "scale": {"domain": ["pions", "electrons"], "range": ["M-1.9,0A1.9,0.8,0,1,0,1.9,0A1.9,0.8,0,1,0,-1.9,0Z", "M-2,-1.1L2,-1.1L2,1.1L-2,1.1Z"]}, "legend": null}
    }},
   {"data": {"name": "pts"}, "transform": [{"filter": "datum.p === '1.5' && datum.s === 'electrons'"}],
    "mark": {"type": "point", "filled": false, "strokeWidth": 1.4, "size": 100, "opacity": 1},
    "encoding": {
     "x": {"field": "x", "type": "quantitative", "axis": {"orient": "bottom", "values": [2,4,6,8,12,14,16,18,22,24,26,28,32,34,36,38,42,44,46,48,52,54,56,58], "tickSize": -5.5, "labels": false, "domain": false, "title": null}},
     "y": {"field": "y", "type": "quantitative", "axis": {"orient": "left", "values": [0.005,0.01,0.015,0.025,0.03,0.035,0.045,0.05,0.055,0.065,0.07,0.075,0.085,0.09,0.095], "tickSize": -11, "labels": false, "domain": false, "title": null}},
     "color": {"field": "s", "type": "nominal", "legend": null},
     "shape": {"field": "s", "type": "nominal", "legend": null}
    }},
   {"data": {"name": "fit"}, "transform": [{"filter": "datum.p === '1.5' && datum.s === 'pions'"}],
    "mark": {"type": "line", "color": "#111111", "strokeWidth": 2.2, "interpolate": "monotone"},
    "encoding": {
     "x": {"field": "x", "type": "quantitative", "axis": {"orient": "top", "values": [0,10,20,30,40,50,60], "tickSize": -10, "labels": false, "title": null}},
     "y": {"field": "y", "type": "quantitative", "axis": {"orient": "right", "values": [0.02,0.04,0.06,0.08], "tickSize": -21, "labels": false, "title": null}}
    }},
   {"data": {"name": "fit"}, "transform": [{"filter": "datum.p === '1.5' && datum.s === 'electrons'"}],
    "mark": {"type": "line", "color": "#111111", "strokeWidth": 2.2, "interpolate": "monotone"},
    "encoding": {
     "x": {"field": "x", "type": "quantitative", "axis": {"orient": "top", "values": [2,4,6,8,12,14,16,18,22,24,26,28,32,34,36,38,42,44,46,48,52,54,56,58], "tickSize": -5.5, "labels": false, "domain": false, "title": null}},
     "y": {"field": "y", "type": "quantitative", "axis": {"orient": "right", "values": [0.005,0.01,0.015,0.025,0.03,0.035,0.045,0.05,0.055,0.065,0.07,0.075,0.085,0.09,0.095], "tickSize": -11, "labels": false, "domain": false, "title": null}}
    }},
   {"data": {"name": "lab"}, "transform": [{"filter": "datum.p === '1.5'"}],
    "mark": {"type": "text", "align": "left", "baseline": "alphabetic", "fontSize": 24, "font": "DejaVu Sans", "color": "black"},
    "encoding": {"x": {"datum": 27.3, "type": "quantitative", "axis": null}, "y": {"datum": 0.0725, "type": "quantitative", "axis": null}, "text": {"field": "t"}}}
  ]},
 {"width": 576, "height": 145, "resolve": {"axis": {"x": "independent", "y": "independent"}},
  "layer": [
   {"data": {"name": "pts"}, "transform": [{"filter": "datum.p === '2' && datum.s === 'pions'"}],
    "mark": {"type": "point", "filled": false, "strokeWidth": 1.4, "size": 100, "opacity": 1},
    "encoding": {
     "x": {"field": "x", "type": "quantitative", "scale": {"domain": [0, 60], "nice": false, "zero": false}, "axis": {"orient": "bottom", "values": [0,10,20,30,40,50,60], "tickSize": -10, "labels": false, "title": null}},
     "y": {"field": "y", "type": "quantitative", "scale": {"domain": [0, 0.0966], "nice": false, "zero": false}, "axis": {"orient": "left", "values": [0.02,0.04,0.06,0.08], "tickSize": -21, "format": ".2f", "labelPadding": 33, "title": null}},
     "color": {"field": "s", "type": "nominal", "scale": {"domain": ["pions", "electrons"], "range": ["#4848f0", "#ff7070"]}, "legend": null},
     "shape": {"field": "s", "type": "nominal", "scale": {"domain": ["pions", "electrons"], "range": ["M-1.9,0A1.9,0.8,0,1,0,1.9,0A1.9,0.8,0,1,0,-1.9,0Z", "M-2,-1.1L2,-1.1L2,1.1L-2,1.1Z"]}, "legend": null}
    }},
   {"data": {"name": "pts"}, "transform": [{"filter": "datum.p === '2' && datum.s === 'electrons'"}],
    "mark": {"type": "point", "filled": false, "strokeWidth": 1.4, "size": 100, "opacity": 1},
    "encoding": {
     "x": {"field": "x", "type": "quantitative", "axis": {"orient": "bottom", "values": [2,4,6,8,12,14,16,18,22,24,26,28,32,34,36,38,42,44,46,48,52,54,56,58], "tickSize": -5.5, "labels": false, "domain": false, "title": null}},
     "y": {"field": "y", "type": "quantitative", "axis": {"orient": "left", "values": [0.005,0.01,0.015,0.025,0.03,0.035,0.045,0.05,0.055,0.065,0.07,0.075,0.085,0.09,0.095], "tickSize": -11, "labels": false, "domain": false, "title": null}},
     "color": {"field": "s", "type": "nominal", "legend": null},
     "shape": {"field": "s", "type": "nominal", "legend": null}
    }},
   {"data": {"name": "fit"}, "transform": [{"filter": "datum.p === '2' && datum.s === 'pions'"}],
    "mark": {"type": "line", "color": "#111111", "strokeWidth": 2.2, "interpolate": "monotone"},
    "encoding": {
     "x": {"field": "x", "type": "quantitative", "axis": {"orient": "top", "values": [0,10,20,30,40,50,60], "tickSize": -10, "labels": false, "title": null}},
     "y": {"field": "y", "type": "quantitative", "axis": {"orient": "right", "values": [0.02,0.04,0.06,0.08], "tickSize": -21, "labels": false, "title": null}}
    }},
   {"data": {"name": "fit"}, "transform": [{"filter": "datum.p === '2' && datum.s === 'electrons'"}],
    "mark": {"type": "line", "color": "#111111", "strokeWidth": 2.2, "interpolate": "monotone"},
    "encoding": {
     "x": {"field": "x", "type": "quantitative", "axis": {"orient": "top", "values": [2,4,6,8,12,14,16,18,22,24,26,28,32,34,36,38,42,44,46,48,52,54,56,58], "tickSize": -5.5, "labels": false, "domain": false, "title": null}},
     "y": {"field": "y", "type": "quantitative", "axis": {"orient": "right", "values": [0.005,0.01,0.015,0.025,0.03,0.035,0.045,0.05,0.055,0.065,0.07,0.075,0.085,0.09,0.095], "tickSize": -11, "labels": false, "domain": false, "title": null}}
    }},
   {"data": {"name": "lab"}, "transform": [{"filter": "datum.p === '2'"}],
    "mark": {"type": "text", "align": "left", "baseline": "alphabetic", "fontSize": 24, "font": "DejaVu Sans", "color": "black"},
    "encoding": {"x": {"datum": 27.3, "type": "quantitative", "axis": null}, "y": {"datum": 0.0725, "type": "quantitative", "axis": null}, "text": {"field": "t"}}}
  ]},
 {"width": 576, "height": 145, "resolve": {"axis": {"x": "independent", "y": "independent"}},
  "layer": [
   {"data": {"name": "pts"}, "transform": [{"filter": "datum.p === '3' && datum.s === 'pions'"}],
    "mark": {"type": "point", "filled": false, "strokeWidth": 1.4, "size": 100, "opacity": 1},
    "encoding": {
     "x": {"field": "x", "type": "quantitative", "scale": {"domain": [0, 60], "nice": false, "zero": false}, "axis": {"orient": "bottom", "values": [0,10,20,30,40,50,60], "tickSize": -10, "labels": false, "title": null}},
     "y": {"field": "y", "type": "quantitative", "scale": {"domain": [0, 0.0966], "nice": false, "zero": false}, "axis": {"orient": "left", "values": [0.02,0.04,0.06,0.08], "tickSize": -21, "format": ".2f", "labelPadding": 33, "title": null}},
     "color": {"field": "s", "type": "nominal", "scale": {"domain": ["pions", "electrons"], "range": ["#4848f0", "#ff7070"]}, "legend": null},
     "shape": {"field": "s", "type": "nominal", "scale": {"domain": ["pions", "electrons"], "range": ["M-1.9,0A1.9,0.8,0,1,0,1.9,0A1.9,0.8,0,1,0,-1.9,0Z", "M-2,-1.1L2,-1.1L2,1.1L-2,1.1Z"]}, "legend": null}
    }},
   {"data": {"name": "pts"}, "transform": [{"filter": "datum.p === '3' && datum.s === 'electrons'"}],
    "mark": {"type": "point", "filled": false, "strokeWidth": 1.4, "size": 100, "opacity": 1},
    "encoding": {
     "x": {"field": "x", "type": "quantitative", "axis": {"orient": "bottom", "values": [2,4,6,8,12,14,16,18,22,24,26,28,32,34,36,38,42,44,46,48,52,54,56,58], "tickSize": -5.5, "labels": false, "domain": false, "title": null}},
     "y": {"field": "y", "type": "quantitative", "axis": {"orient": "left", "values": [0.005,0.01,0.015,0.025,0.03,0.035,0.045,0.05,0.055,0.065,0.07,0.075,0.085,0.09,0.095], "tickSize": -11, "labels": false, "domain": false, "title": null}},
     "color": {"field": "s", "type": "nominal", "legend": null},
     "shape": {"field": "s", "type": "nominal", "legend": null}
    }},
   {"data": {"name": "fit"}, "transform": [{"filter": "datum.p === '3' && datum.s === 'pions'"}],
    "mark": {"type": "line", "color": "#111111", "strokeWidth": 2.2, "interpolate": "monotone"},
    "encoding": {
     "x": {"field": "x", "type": "quantitative", "axis": {"orient": "top", "values": [0,10,20,30,40,50,60], "tickSize": -10, "labels": false, "title": null}},
     "y": {"field": "y", "type": "quantitative", "axis": {"orient": "right", "values": [0.02,0.04,0.06,0.08], "tickSize": -21, "labels": false, "title": null}}
    }},
   {"data": {"name": "fit"}, "transform": [{"filter": "datum.p === '3' && datum.s === 'electrons'"}],
    "mark": {"type": "line", "color": "#111111", "strokeWidth": 2.2, "interpolate": "monotone"},
    "encoding": {
     "x": {"field": "x", "type": "quantitative", "axis": {"orient": "top", "values": [2,4,6,8,12,14,16,18,22,24,26,28,32,34,36,38,42,44,46,48,52,54,56,58], "tickSize": -5.5, "labels": false, "domain": false, "title": null}},
     "y": {"field": "y", "type": "quantitative", "axis": {"orient": "right", "values": [0.005,0.01,0.015,0.025,0.03,0.035,0.045,0.05,0.055,0.065,0.07,0.075,0.085,0.09,0.095], "tickSize": -11, "labels": false, "domain": false, "title": null}}
    }},
   {"data": {"name": "lab"}, "transform": [{"filter": "datum.p === '3'"}],
    "mark": {"type": "text", "align": "left", "baseline": "alphabetic", "fontSize": 24, "font": "DejaVu Sans", "color": "black"},
    "encoding": {"x": {"datum": 27.3, "type": "quantitative", "axis": null}, "y": {"datum": 0.0725, "type": "quantitative", "axis": null}, "text": {"field": "t"}}}
  ]},
 {"width": 576, "height": 145, "resolve": {"axis": {"x": "independent", "y": "independent"}},
  "layer": [
   {"data": {"name": "pts"}, "transform": [{"filter": "datum.p === '4' && datum.s === 'pions'"}],
    "mark": {"type": "point", "filled": false, "strokeWidth": 1.4, "size": 100, "opacity": 1},
    "encoding": {
     "x": {"field": "x", "type": "quantitative", "scale": {"domain": [0, 60], "nice": false, "zero": false}, "axis": {"orient": "bottom", "values": [0,10,20,30,40,50,60], "tickSize": -10, "labels": false, "title": null}},
     "y": {"field": "y", "type": "quantitative", "scale": {"domain": [0, 0.0966], "nice": false, "zero": false}, "axis": {"orient": "left", "values": [0.02,0.04,0.06,0.08], "tickSize": -21, "format": ".2f", "labelPadding": 33, "title": null}},
     "color": {"field": "s", "type": "nominal", "scale": {"domain": ["pions", "electrons"], "range": ["#4848f0", "#ff7070"]}, "legend": null},
     "shape": {"field": "s", "type": "nominal", "scale": {"domain": ["pions", "electrons"], "range": ["M-1.9,0A1.9,0.8,0,1,0,1.9,0A1.9,0.8,0,1,0,-1.9,0Z", "M-2,-1.1L2,-1.1L2,1.1L-2,1.1Z"]}, "legend": null}
    }},
   {"data": {"name": "pts"}, "transform": [{"filter": "datum.p === '4' && datum.s === 'electrons'"}],
    "mark": {"type": "point", "filled": false, "strokeWidth": 1.4, "size": 100, "opacity": 1},
    "encoding": {
     "x": {"field": "x", "type": "quantitative", "axis": {"orient": "bottom", "values": [2,4,6,8,12,14,16,18,22,24,26,28,32,34,36,38,42,44,46,48,52,54,56,58], "tickSize": -5.5, "labels": false, "domain": false, "title": null}},
     "y": {"field": "y", "type": "quantitative", "axis": {"orient": "left", "values": [0.005,0.01,0.015,0.025,0.03,0.035,0.045,0.05,0.055,0.065,0.07,0.075,0.085,0.09,0.095], "tickSize": -11, "labels": false, "domain": false, "title": null}},
     "color": {"field": "s", "type": "nominal", "legend": null},
     "shape": {"field": "s", "type": "nominal", "legend": null}
    }},
   {"data": {"name": "fit"}, "transform": [{"filter": "datum.p === '4' && datum.s === 'pions'"}],
    "mark": {"type": "line", "color": "#111111", "strokeWidth": 2.2, "interpolate": "monotone"},
    "encoding": {
     "x": {"field": "x", "type": "quantitative", "axis": {"orient": "top", "values": [0,10,20,30,40,50,60], "tickSize": -10, "labels": false, "title": null}},
     "y": {"field": "y", "type": "quantitative", "axis": {"orient": "right", "values": [0.02,0.04,0.06,0.08], "tickSize": -21, "labels": false, "title": null}}
    }},
   {"data": {"name": "fit"}, "transform": [{"filter": "datum.p === '4' && datum.s === 'electrons'"}],
    "mark": {"type": "line", "color": "#111111", "strokeWidth": 2.2, "interpolate": "monotone"},
    "encoding": {
     "x": {"field": "x", "type": "quantitative", "axis": {"orient": "top", "values": [2,4,6,8,12,14,16,18,22,24,26,28,32,34,36,38,42,44,46,48,52,54,56,58], "tickSize": -5.5, "labels": false, "domain": false, "title": null}},
     "y": {"field": "y", "type": "quantitative", "axis": {"orient": "right", "values": [0.005,0.01,0.015,0.025,0.03,0.035,0.045,0.05,0.055,0.065,0.07,0.075,0.085,0.09,0.095], "tickSize": -11, "labels": false, "domain": false, "title": null}}
    }},
   {"data": {"name": "lab"}, "transform": [{"filter": "datum.p === '4'"}],
    "mark": {"type": "text", "align": "left", "baseline": "alphabetic", "fontSize": 24, "font": "DejaVu Sans", "color": "black"},
    "encoding": {"x": {"datum": 27.3, "type": "quantitative", "axis": null}, "y": {"datum": 0.0725, "type": "quantitative", "axis": null}, "text": {"field": "t"}}}
  ]},
 {"width": 576, "height": 145, "resolve": {"axis": {"x": "independent", "y": "independent"}},
  "layer": [
   {"data": {"name": "pts"}, "transform": [{"filter": "datum.p === '5' && datum.s === 'pions'"}],
    "mark": {"type": "point", "filled": false, "strokeWidth": 1.4, "size": 100, "opacity": 1},
    "encoding": {
     "x": {"field": "x", "type": "quantitative", "scale": {"domain": [0, 60], "nice": false, "zero": false}, "axis": {"orient": "bottom", "values": [0,10,20,30,40,50,60], "tickSize": -10, "labels": false, "title": null}},
     "y": {"field": "y", "type": "quantitative", "scale": {"domain": [0, 0.0966], "nice": false, "zero": false}, "axis": {"orient": "left", "values": [0.02,0.04,0.06,0.08], "tickSize": -21, "format": ".2f", "labelPadding": 33, "title": null}},
     "color": {"field": "s", "type": "nominal", "scale": {"domain": ["pions", "electrons"], "range": ["#4848f0", "#ff7070"]}, "legend": null},
     "shape": {"field": "s", "type": "nominal", "scale": {"domain": ["pions", "electrons"], "range": ["M-1.9,0A1.9,0.8,0,1,0,1.9,0A1.9,0.8,0,1,0,-1.9,0Z", "M-2,-1.1L2,-1.1L2,1.1L-2,1.1Z"]}, "legend": null}
    }},
   {"data": {"name": "pts"}, "transform": [{"filter": "datum.p === '5' && datum.s === 'electrons'"}],
    "mark": {"type": "point", "filled": false, "strokeWidth": 1.4, "size": 100, "opacity": 1},
    "encoding": {
     "x": {"field": "x", "type": "quantitative", "axis": {"orient": "bottom", "values": [2,4,6,8,12,14,16,18,22,24,26,28,32,34,36,38,42,44,46,48,52,54,56,58], "tickSize": -5.5, "labels": false, "domain": false, "title": null}},
     "y": {"field": "y", "type": "quantitative", "axis": {"orient": "left", "values": [0.005,0.01,0.015,0.025,0.03,0.035,0.045,0.05,0.055,0.065,0.07,0.075,0.085,0.09,0.095], "tickSize": -11, "labels": false, "domain": false, "title": null}},
     "color": {"field": "s", "type": "nominal", "legend": null},
     "shape": {"field": "s", "type": "nominal", "legend": null}
    }},
   {"data": {"name": "fit"}, "transform": [{"filter": "datum.p === '5' && datum.s === 'pions'"}],
    "mark": {"type": "line", "color": "#111111", "strokeWidth": 2.2, "interpolate": "monotone"},
    "encoding": {
     "x": {"field": "x", "type": "quantitative", "axis": {"orient": "top", "values": [0,10,20,30,40,50,60], "tickSize": -10, "labels": false, "title": null}},
     "y": {"field": "y", "type": "quantitative", "axis": {"orient": "right", "values": [0.02,0.04,0.06,0.08], "tickSize": -21, "labels": false, "title": null}}
    }},
   {"data": {"name": "fit"}, "transform": [{"filter": "datum.p === '5' && datum.s === 'electrons'"}],
    "mark": {"type": "line", "color": "#111111", "strokeWidth": 2.2, "interpolate": "monotone"},
    "encoding": {
     "x": {"field": "x", "type": "quantitative", "axis": {"orient": "top", "values": [2,4,6,8,12,14,16,18,22,24,26,28,32,34,36,38,42,44,46,48,52,54,56,58], "tickSize": -5.5, "labels": false, "domain": false, "title": null}},
     "y": {"field": "y", "type": "quantitative", "axis": {"orient": "right", "values": [0.005,0.01,0.015,0.025,0.03,0.035,0.045,0.05,0.055,0.065,0.07,0.075,0.085,0.09,0.095], "tickSize": -11, "labels": false, "domain": false, "title": null}}
    }},
   {"data": {"name": "lab"}, "transform": [{"filter": "datum.p === '5'"}],
    "mark": {"type": "text", "align": "left", "baseline": "alphabetic", "fontSize": 24, "font": "DejaVu Sans", "color": "black"},
    "encoding": {"x": {"datum": 27.3, "type": "quantitative", "axis": null}, "y": {"datum": 0.0725, "type": "quantitative", "axis": null}, "text": {"field": "t"}}}
  ]},
 {"width": 576, "height": 145, "resolve": {"axis": {"x": "independent", "y": "independent"}},
  "layer": [
   {"data": {"name": "pts"}, "transform": [{"filter": "datum.p === '6' && datum.s === 'pions'"}],
    "mark": {"type": "point", "filled": false, "strokeWidth": 1.4, "size": 100, "opacity": 1},
    "encoding": {
     "x": {"field": "x", "type": "quantitative", "scale": {"domain": [0, 60], "nice": false, "zero": false}, "axis": {"orient": "bottom", "values": [0,10,20,30,40,50,60], "tickSize": -10, "labels": true, "labelPadding": 19, "title": "ΔE (keV)", "titleFontSize": 25, "titleAnchor": "end", "titlePadding": 2}},
     "y": {"field": "y", "type": "quantitative", "scale": {"domain": [0, 0.0966], "nice": false, "zero": false}, "axis": {"orient": "left", "values": [0.02,0.04,0.06,0.08], "tickSize": -21, "format": ".2f", "labelPadding": 33, "title": null}},
     "color": {"field": "s", "type": "nominal", "scale": {"domain": ["pions", "electrons"], "range": ["#4848f0", "#ff7070"]}, "legend": null},
     "shape": {"field": "s", "type": "nominal", "scale": {"domain": ["pions", "electrons"], "range": ["M-1.9,0A1.9,0.8,0,1,0,1.9,0A1.9,0.8,0,1,0,-1.9,0Z", "M-2,-1.1L2,-1.1L2,1.1L-2,1.1Z"]}, "legend": null}
    }},
   {"data": {"name": "pts"}, "transform": [{"filter": "datum.p === '6' && datum.s === 'electrons'"}],
    "mark": {"type": "point", "filled": false, "strokeWidth": 1.4, "size": 100, "opacity": 1},
    "encoding": {
     "x": {"field": "x", "type": "quantitative", "axis": {"orient": "bottom", "values": [2,4,6,8,12,14,16,18,22,24,26,28,32,34,36,38,42,44,46,48,52,54,56,58], "tickSize": -5.5, "labels": false, "domain": false, "title": null}},
     "y": {"field": "y", "type": "quantitative", "axis": {"orient": "left", "values": [0.005,0.01,0.015,0.025,0.03,0.035,0.045,0.05,0.055,0.065,0.07,0.075,0.085,0.09,0.095], "tickSize": -11, "labels": false, "domain": false, "title": null}},
     "color": {"field": "s", "type": "nominal", "legend": null},
     "shape": {"field": "s", "type": "nominal", "legend": null}
    }},
   {"data": {"name": "fit"}, "transform": [{"filter": "datum.p === '6' && datum.s === 'pions'"}],
    "mark": {"type": "line", "color": "#111111", "strokeWidth": 2.2, "interpolate": "monotone"},
    "encoding": {
     "x": {"field": "x", "type": "quantitative", "axis": {"orient": "top", "values": [0,10,20,30,40,50,60], "tickSize": -10, "labels": false, "title": null}},
     "y": {"field": "y", "type": "quantitative", "axis": {"orient": "right", "values": [0.02,0.04,0.06,0.08], "tickSize": -21, "labels": false, "title": null}}
    }},
   {"data": {"name": "fit"}, "transform": [{"filter": "datum.p === '6' && datum.s === 'electrons'"}],
    "mark": {"type": "line", "color": "#111111", "strokeWidth": 2.2, "interpolate": "monotone"},
    "encoding": {
     "x": {"field": "x", "type": "quantitative", "axis": {"orient": "top", "values": [2,4,6,8,12,14,16,18,22,24,26,28,32,34,36,38,42,44,46,48,52,54,56,58], "tickSize": -5.5, "labels": false, "domain": false, "title": null}},
     "y": {"field": "y", "type": "quantitative", "axis": {"orient": "right", "values": [0.005,0.01,0.015,0.025,0.03,0.035,0.045,0.05,0.055,0.065,0.07,0.075,0.085,0.09,0.095], "tickSize": -11, "labels": false, "domain": false, "title": null}}
    }},
   {"data": {"name": "lab"}, "transform": [{"filter": "datum.p === '6'"}],
    "mark": {"type": "text", "align": "left", "baseline": "alphabetic", "fontSize": 24, "font": "DejaVu Sans", "color": "black"},
    "encoding": {"x": {"datum": 27.3, "type": "quantitative", "axis": null}, "y": {"datum": 0.0725, "type": "quantitative", "axis": null}, "text": {"field": "t"}}}
  ]}
]
}
